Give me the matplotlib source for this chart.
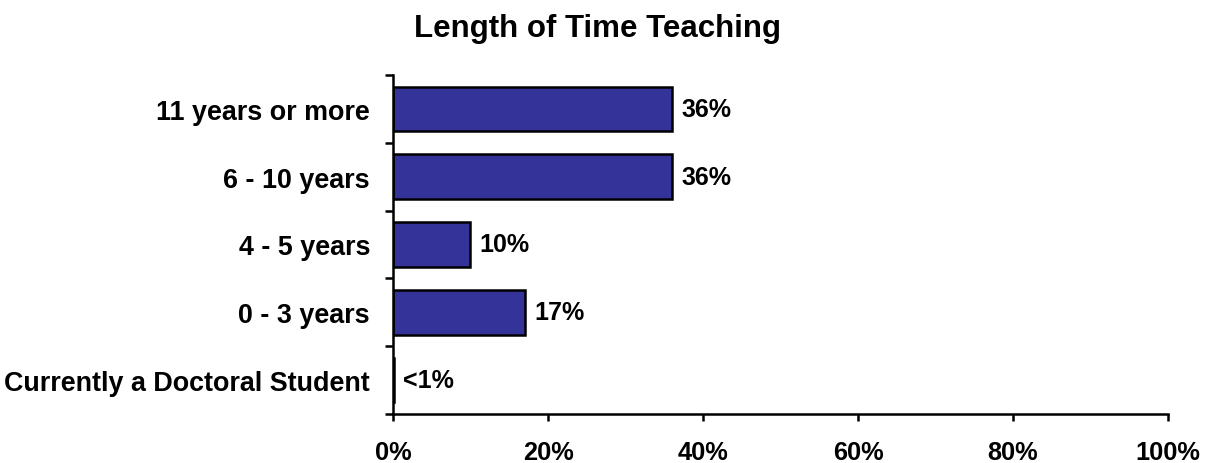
import matplotlib.pyplot as plt
import numpy as np

# survey answers, bottom to top
categories = ["Currently a Doctoral Student", "0 - 3 years", "4 - 5 years",
              "6 - 10 years", "11 years or more"]
shares = [0.1, 17, 10, 36, 36]
bar_labels = ["<1%", "17%", "10%", "36%", "36%"]
x_ticks = [0, 20, 40, 60, 80, 100]

plt.rcParams['font.family'] = ['Liberation Sans', 'DejaVu Sans']
plt.rcParams['font.weight'] = 'bold'

fig = plt.figure(figsize=(12.11, 4.64), dpi=100)
ax = fig.add_axes([393 / 1211, 49 / 464, 775 / 1211, 339 / 464])

pos = np.arange(len(categories))
ax.barh(pos, shares, height=0.66, color='#333399', edgecolor='black', linewidth=1.8)
for p, v, lab in zip(pos, shares, bar_labels):
    ax.text(v + 1.2, p, lab, va='center', ha='left', fontsize=18, fontweight='bold')

ax.set_xlim(0, 100)
ax.set_ylim(-0.5, len(categories) - 0.5)
ax.set_xticks(x_ticks)
ax.set_xticklabels([f"{t}%" for t in x_ticks], fontsize=18.3, fontweight='bold')
ax.set_yticks(pos)
ax.set_yticklabels(categories, fontsize=19.4, fontweight='bold')
ax.set_yticks(np.arange(len(categories) + 1) - 0.5, minor=True)
ax.tick_params(axis='y', which='major', length=0, pad=16.5)
ax.tick_params(axis='y', which='minor', length=6, width=1.8, direction='out')
ax.tick_params(axis='x', length=5, width=1.8, direction='out', pad=13.5)

for side in ['top', 'right']:
    ax.spines[side].set_visible(False)
for side in ['left', 'bottom']:
    ax.spines[side].set_linewidth(1.8)

fig.text(598 / 1211, 1 - 37 / 464, "Length of Time Teaching", ha='center', va='baseline',
         fontsize=22.5, fontweight='bold')

fig.savefig('out.png', dpi=100)
